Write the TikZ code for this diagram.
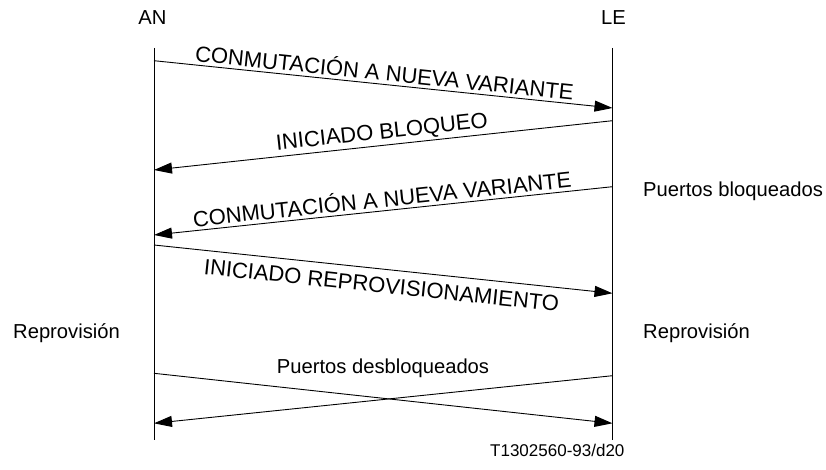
\documentclass[tikz,border=0pt]{standalone}
\usepackage{fontspec}
\setmainfont{Liberation Sans}
\usetikzlibrary{arrows.meta}
\begin{document}
\begin{tikzpicture}[x=1pt,y=-1pt,
  life/.style={line width=0.9pt},
  msg/.style={line width=0.9pt,-{Triangle[length=18pt,width=11pt]}},
  lbl/.style={font=\fontsize{22}{26}\selectfont, sloped, inner sep=3pt},
  side/.style={font=\fontsize{20.2}{24}\selectfont, inner sep=0pt},
  code/.style={font=\fontsize{17}{20}\selectfont, inner sep=0pt, anchor=base west},
]
\useasboundingbox (0,0) rectangle (826,470);

% headings
\node[side, anchor=base] (an) at (152.5,25) {AN};
\node[side, anchor=base] (le) at (613.5,25) {LE};

% lifelines
\coordinate (anT) at (154,48);
\coordinate (anB) at (154,440);
\coordinate (leT) at (612.5,48);
\coordinate (leB) at (612.5,440);
\draw[life] (anT) -- (anB);
\draw[life] (leT) -- (leB);

% message endpoints
\coordinate (a1) at (154,60.7);   \coordinate (l1) at (612.5,108);
\coordinate (l2) at (612.5,120.7); \coordinate (a2) at (154,170);
\coordinate (l3) at (612.5,186.7); \coordinate (a3) at (154,235);
\coordinate (a4) at (154,245);    \coordinate (l4) at (612.5,293.3);
\coordinate (a5) at (154,373.3);  \coordinate (l5) at (612.5,423.3);
\coordinate (l6) at (612.5,375.7); \coordinate (a6) at (154,423.3);

\draw[msg] (a1) -- node[lbl, above] (t1) {CONMUTACIÓN A NUEVA VARIANTE} (l1);
\draw[msg] (l2) -- node[lbl, above, inner sep=2pt] (t2) {INICIADO BLOQUEO} (a2);
\draw[msg] (l3) -- node[lbl, above] (t3) {CONMUTACIÓN A NUEVA VARIANTE} (a3);
\draw[msg] (a4) -- node[lbl, below, inner sep=8pt] (t4) {INICIADO REPROVISIONAMIENTO} (l4);
\draw[msg] (a5) -- (l5);
\draw[msg] (l6) -- (a6);

\node[side, anchor=base] (pd) at (383,373) {Puertos desbloqueados};

% side labels
\node[side, anchor=base west] (pb) at (643,197) {Puertos bloqueados};
\node[side, anchor=base west] (rl) at (13,338) {Reprovisión};
\node[side, anchor=base west] (rr) at (643,338) {Reprovisión};

\node[code] (cd) at (490,456) {T1302560-93/d20};
\end{tikzpicture}
\end{document}
